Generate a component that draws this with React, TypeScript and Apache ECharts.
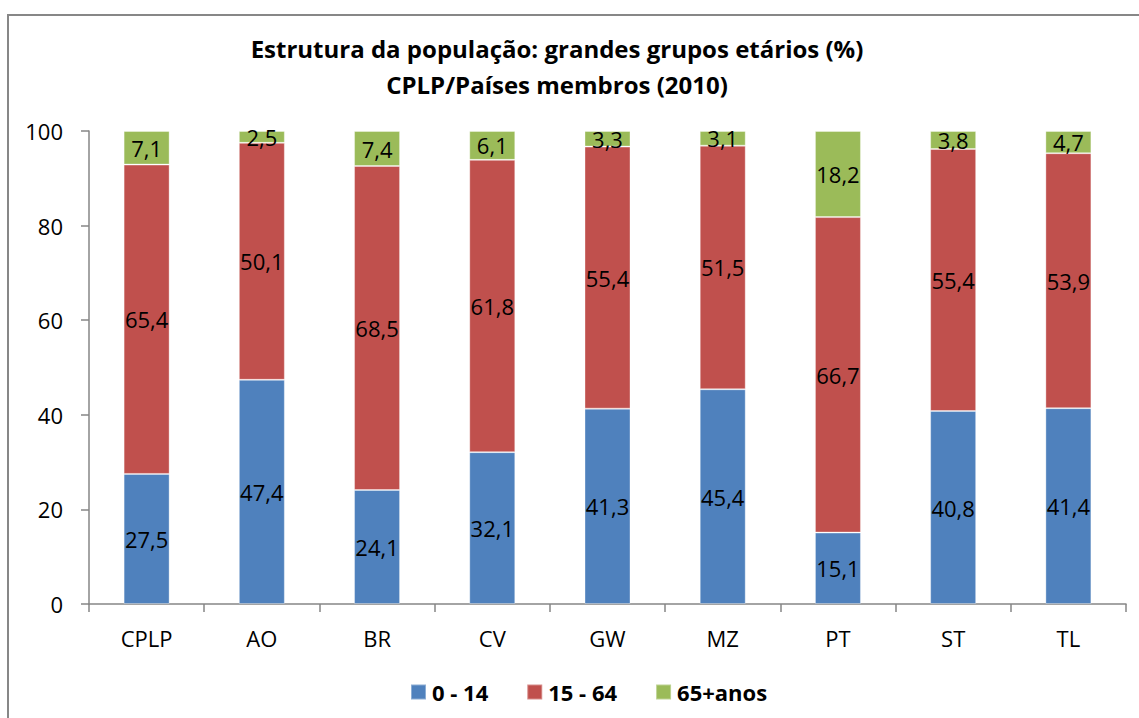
import React, { useEffect, useRef } from "react";
import * as echarts from "echarts";

const categories = ["CPLP", "AO", "BR", "CV", "GW", "MZ", "PT", "ST", "TL"];
const age0to14 = [27.5, 47.4, 24.1, 32.1, 41.3, 45.4, 15.1, 40.8, 41.4];
const age15to64 = [65.4, 50.1, 68.5, 61.8, 55.4, 51.5, 66.7, 55.4, 53.9];
const age65plus = [7.1, 2.5, 7.4, 6.1, 3.3, 3.1, 18.2, 3.8, 4.7];
const seriesNames = ["0 - 14", "15 - 64", "65+anos"];
const titleLines = [
  "Estrutura da população: grandes grupos etários (%)",
  "CPLP/Países membros (2010)",
];

const FONT = "'Open Sans', 'Liberation Sans', sans-serif";

export default function App() {
  const ref = useRef<HTMLDivElement>(null);
  useEffect(() => {
    if (!ref.current) return;
    const chart = echarts.init(ref.current, null, { renderer: "svg" });
    const colors = ["#4F81BD", "#C0504D", "#9BBB59"];
    const data = [age0to14, age15to64, age65plus];
    chart.setOption({
      animation: false,
      textStyle: { fontFamily: FONT },
      graphic: [
        {
          type: "rect",
          shape: { x: 8, y: 15, width: 1300, height: 900 },
          style: { fill: "none", stroke: "#878787", lineWidth: 2 },
          silent: true,
          z: -1,
        },
        {
          type: "text",
          x: 557,
          y: 48,
          style: {
            text: titleLines[0],
            font: `bold 24px ${FONT}`,
            fill: "#000",
            textAlign: "center",
            textVerticalAlign: "middle",
          },
        },
        {
          type: "text",
          x: 557,
          y: 84,
          style: {
            text: titleLines[1],
            font: `bold 24px ${FONT}`,
            fill: "#000",
            textAlign: "center",
            textVerticalAlign: "middle",
          },
        },
      ],
      legend: {
        data: seriesNames,
        left: 405,
        top: 676,
        icon: "rect",
        itemWidth: 15,
        itemHeight: 15,
        itemGap: 38,
        textStyle: { fontSize: 22, fontWeight: "bold", color: "#000", fontFamily: FONT, padding: [0, 0, 0, 1] },
      },
      grid: { left: 89, right: 13, top: 131, bottom: 114, containLabel: false },
      xAxis: {
        type: "category",
        data: categories,
        axisLine: { lineStyle: { color: "#868686", width: 1.5 } },
        axisTick: { show: true, length: 8, lineStyle: { color: "#868686", width: 1.5 } },
        axisLabel: { fontSize: 22, color: "#000", margin: 23, fontFamily: FONT },
      },
      yAxis: {
        type: "value",
        min: 0,
        max: 100,
        interval: 20,
        axisLine: { show: true, lineStyle: { color: "#868686", width: 1.5 } },
        axisTick: { show: true, length: 8, lineStyle: { color: "#868686", width: 1.5 } },
        splitLine: { show: false },
        axisLabel: { fontSize: 22, color: "#000", margin: 26, fontFamily: FONT },
      },
      series: seriesNames.map((name, i) => ({
        name,
        type: "bar",
        stack: "total",
        barWidth: 46,
        data: data[i],
        itemStyle: { color: colors[i], borderColor: "rgba(255,255,255,0.35)", borderWidth: 1 },
        label: {
          show: true,
          position: "inside",
          color: "#000",
          fontSize: 22,
          fontFamily: FONT,
          formatter: (p: any) => String(p.value.toFixed(1)).replace(".", ","),
        },
      })),
    });
    return () => chart.dispose();
  }, []);
  return (
    <div
      ref={ref}
      style={{ position: "fixed", left: 0, top: 0, width: 1139, height: 718, background: "#fff" }}
    />
  );
}
